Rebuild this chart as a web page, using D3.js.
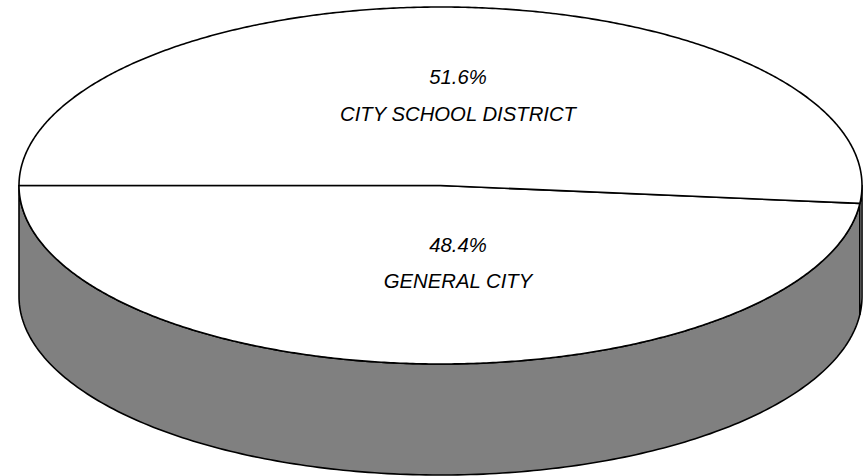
<!DOCTYPE html>
<html>
<head>
<meta charset="utf-8">
<script src="https://cdn.jsdelivr.net/npm/d3@7"></script>
<style>
  html, body { margin: 0; padding: 0; background: #fff; }
  svg { display: block; }
</style>
</head>
<body>
<svg id="chart" width="866" height="476"></svg>
<script>
const categories = ["GENERAL CITY", "CITY SCHOOL DISTRICT"];
const values = [48.4, 51.6];
const labels = ["48.4%", "51.6%"];
const sideColors = ["#808080", "#ffffff"];

const W = 866, H = 476;
const cx = 440.5, cy = 185.5, rx = 421.5, ry = 178.5, depth = 111;
const labelX = 458;

const svg = d3.select("#chart");

const pieStart = 3 * Math.PI / 2 - (values[0] / d3.sum(values)) * 2 * Math.PI;
const pie = d3.pie().sort(null)
  .startAngle(pieStart)
  .endAngle(pieStart + 2 * Math.PI);
const arcs = pie(values);

// d3 angle (clockwise from 12 o'clock) -> screen param angle
const toTheta = a => a - Math.PI / 2;
const pt = (t, dy = 0) => [cx + rx * Math.cos(t), cy + ry * Math.sin(t) + dy];

function arcPoints(t0, t1, dy = 0, n = 200) {
  const pts = [];
  for (let i = 0; i <= n; i++) pts.push(pt(t0 + (t1 - t0) * i / n, dy));
  return pts;
}

const line = d3.line();

// side walls (front half: theta in [0, PI], modulo 2PI)
const sides = svg.append("g");
arcs.forEach((d, i) => {
  let t0 = toTheta(d.startAngle), t1 = toTheta(d.endAngle);
  const k = Math.floor(t0 / (2 * Math.PI));
  t0 -= k * 2 * Math.PI; t1 -= k * 2 * Math.PI;
  const ranges = [];
  [[0, Math.PI], [2 * Math.PI, 3 * Math.PI]].forEach(([a, b]) => {
    const s = Math.max(a, t0), e = Math.min(b, t1);
    if (e > s) ranges.push([s, e]);
  });
  ranges.forEach(([s, e]) => {
    const top = arcPoints(s, e);
    const bottom = arcPoints(e, s, depth);
    sides.append("path")
      .attr("d", line(top.concat(bottom)) + "Z")
      .attr("fill", sideColors[i])
      .attr("stroke", "#000")
      .attr("stroke-width", 1.6)
      .attr("stroke-linejoin", "round");
  });
});

// top faces
const tops = svg.append("g");
arcs.forEach((d, i) => {
  const t0 = toTheta(d.startAngle), t1 = toTheta(d.endAngle);
  const pts = [[cx, cy]].concat(arcPoints(t0, t1, 0, 400));
  tops.append("path")
    .attr("d", line(pts) + "Z")
    .attr("fill", "#ffffff")
    .attr("stroke", "#000")
    .attr("stroke-width", 1.6)
    .attr("stroke-linejoin", "round");
});

// labels
const labelPos = [
  { pct: 252, name: 288 },
  { pct: 84, name: 121 }
];
const lg = svg.append("g")
  .attr("font-family", "'Liberation Sans', Arial, sans-serif")
  .attr("font-style", "italic")
  .attr("font-size", 20.3)
  .attr("text-anchor", "middle")
  .attr("fill", "#000");
categories.forEach((c, i) => {
  lg.append("text").attr("x", labelX).attr("y", labelPos[i].pct).text(labels[i]);
  lg.append("text").attr("x", labelX).attr("y", labelPos[i].name).text(c);
});
</script>
</body>
</html>
